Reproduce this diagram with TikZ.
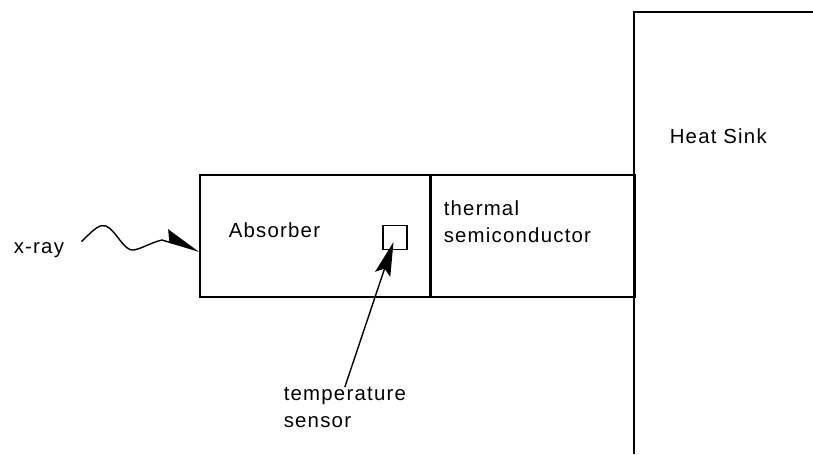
\documentclass[tikz,border=0pt]{standalone}
\usepackage{fontspec}
\setmainfont{Liberation Sans}
\usetikzlibrary{arrows.meta}

\begin{document}
\begin{tikzpicture}[x=0.025cm,y=-0.025cm,line width=1.1pt,
  lbl/.style={font=\fontsize{14.5}{18.5}\selectfont\addfontfeature{LetterSpace=6},inner sep=0pt,align=left},
  blk/.style={draw,rectangle,inner sep=0pt,minimum height=3.05cm},
  bigtip/.style={-{Stealth[length=0.85cm,width=0.4cm,inset=0.15cm]}}]
  \useasboundingbox (0,0) rectangle (813,454);
  % absorber, semiconductor and the heat sink
  \node[blk,minimum width=5.75cm] (absorber) at (315,236) {};
  \node[blk,minimum width=5.1cm,anchor=west] (semi) at (absorber.east) {};
  \draw (634,454)--(634,12)--(813,12);
  \node[draw,inner sep=0pt,minimum size=0.6cm,line width=1pt] (sensor) at (395,237.5) {};
  % labels
  \node[lbl,anchor=base west] (xray) at (13,253) {x-ray};
  \node[lbl,anchor=base west] (abslbl) at (228,237.5) {Absorber};
  \node[lbl,anchor=base west] (semilbl) at (443,242) {thermal\\semiconductor};
  \node[lbl,anchor=base west] (sinklbl) at (669,143) {Heat Sink};
  \node[lbl,anchor=base west] (tsens) at (283,427) {temperature\\sensor};
  % incoming x-ray and the sensor pointer
  \draw[-{Stealth[left,length=0.85cm,width=0.6cm,inset=0.12cm]},line width=1pt]
    ([xshift=0.42cm,yshift=0.2cm]xray.east) .. controls (95,228) and (100,224) .. (106,226)
    .. controls (116,230) and (124,252) .. (134,250) .. controls (143,248) and (150,243) .. (162,240)
    -- ([yshift=-0.38cm]absorber.west);
  \draw[bigtip,line width=1pt,shorten >=0.12cm] (tsens.north) -- (sensor.center);
\end{tikzpicture}
\end{document}
